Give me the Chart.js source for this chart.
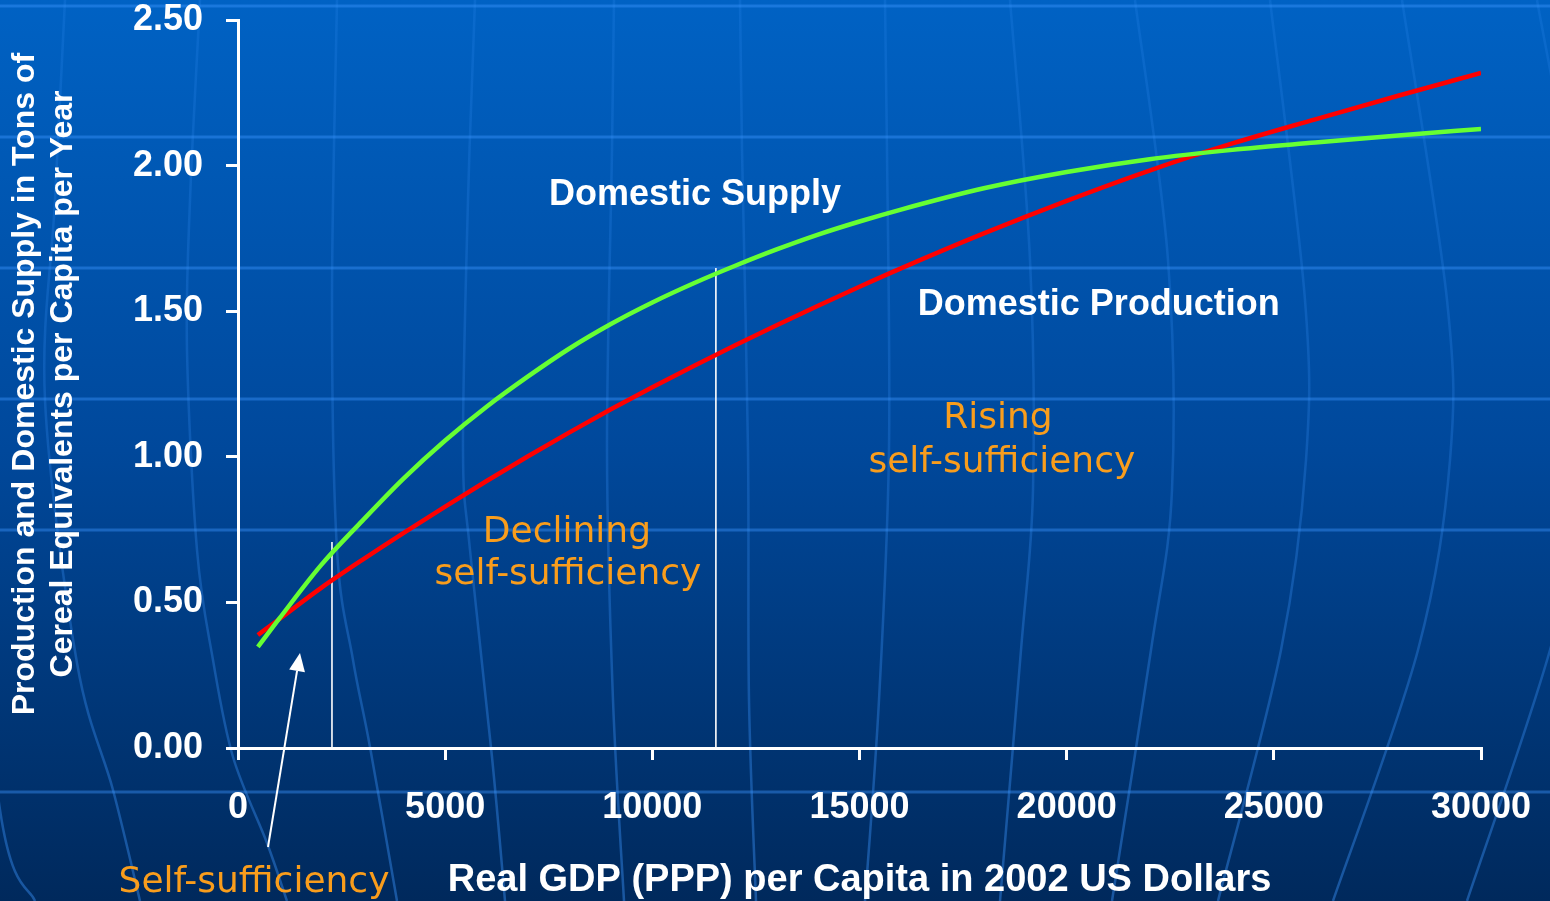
<!DOCTYPE html>
<html><head><meta charset="utf-8">
<script src="https://cdn.jsdelivr.net/npm/chart.js@4.4.1/dist/chart.umd.min.js"></script>
<style>html,body{margin:0;padding:0;background:#003a80;overflow:hidden}canvas{display:block}</style>
</head><body>
<canvas id="c" width="1550" height="901"></canvas>
<script>
// ---- data ----
const gdp = [480, 1000, 2000, 3000, 4000, 5000, 6000, 7000, 8000, 9000, 10000, 11000, 12000, 13000, 14000, 15000, 16000, 18000, 20000, 22000, 24000, 26000, 28000, 30000];
const domesticSupply = [0.347, 0.445, 0.627, 0.780, 0.926, 1.056, 1.172, 1.276, 1.372, 1.456, 1.530, 1.596, 1.656, 1.712, 1.763, 1.808, 1.849, 1.922, 1.978, 2.022, 2.054, 2.079, 2.103, 2.126];
const domesticProduction = [0.388, 0.443, 0.549, 0.646, 0.739, 0.829, 0.917, 1.002, 1.084, 1.163, 1.239, 1.312, 1.383, 1.452, 1.519, 1.584, 1.647, 1.767, 1.879, 1.983, 2.076, 2.159, 2.240, 2.318];
const xTickValues = [0, 5000, 10000, 15000, 20000, 25000, 30000];
const xTickLabels = ['0', '5000', '10000', '15000', '20000', '25000', '30000'];
const yTickValues = [0, 0.5, 1.0, 1.5, 2.0, 2.5];
const yTickLabels = ['0.00', '0.50', '1.00', '1.50', '2.00', '2.50'];
const dividerGdp = [2268, 11534];
const dividerTop = [0.707, 1.648];
const seriesNames = ['Domestic Supply', 'Domestic Production'];
const xTitle = 'Real GDP (PPP) per Capita in 2002 US Dollars';
const yTitle = ['Production and Domestic Supply in Tons of', 'Cereal Equivalents per Capita per Year'];

// text annotations (anchored in data units: x = GDP, y = tons, baseline)
const notes = [
  {text: seriesNames[0], x: 11028, y: 1.865, style: 'series'},
  {text: seriesNames[1], x: 20776, y: 1.487, style: 'series'},
  {text: 'Rising', x: 18339, y: 1.099, style: 'note'},
  {text: 'self-sufficiency', x: 18435, y: 0.948, style: 'note'},
  {text: 'Declining', x: 7939, y: 0.707, style: 'note'},
  {text: 'self-sufficiency', x: 7963, y: 0.563, style: 'note'},
  {text: 'Self-sufficiency', x: 386, y: -0.495, style: 'note'}
];
const arrowFrom = {x: 724, y: -0.340};
const arrowTo = {x: 1496, y: 0.326};

const SANS = "'Liberation Sans', Arial, Helvetica, sans-serif";
const ORANGE = '#f99d1c';

// ---- decorative globe background ----
const meridians = [
  [[-60,0],[-40,400],[0,810],[35,901]],
  [[65,0],[55,200],[45,400],[77,663],[113,790],[140,901]],
  [[200,0],[190,200],[187,350],[197,550],[213,660],[233,757],[267,843],[287,901]],
  [[337,0],[332,300],[337,550],[353,660],[370,747],[397,901]],
  [[475,0],[468,200],[463,450],[470,550],[492,757],[505,901]],
  [[614,0],[612,150],[607,450],[613,700],[624,901]],
  [[740,0],[742,150],[748,450],[749,700],[756,901]],
  [[885,0],[887,150],[889,450],[879,700],[865,901]],
  [[1010,0],[1030,260],[1033,490],[1021,650],[1000,901]],
  [[1135,0],[1168,260],[1172,490],[1151,650],[1112,901]],
  [[1270,0],[1305,300],[1306,460],[1281,650],[1218,901]],
  [[1402,0],[1447,300],[1450,460],[1418,650],[1333,901]],
  [[1537,0],[1590,300],[1592,460],[1550,650],[1467,901]]
];
const parallels = [6, 137, 268, 399, 530, 792];

function smoothPath(ctx, pts) {
  ctx.moveTo(pts[0][0], pts[0][1]);
  const n = pts.length;
  for (let i = 0; i < n - 1; i++) {
    const p0 = pts[Math.max(i - 1, 0)], p1 = pts[i], p2 = pts[i + 1], p3 = pts[Math.min(i + 2, n - 1)];
    ctx.bezierCurveTo(p1[0] + (p2[0] - p0[0]) / 6, p1[1] + (p2[1] - p0[1]) / 6,
                      p2[0] - (p3[0] - p1[0]) / 6, p2[1] - (p3[1] - p1[1]) / 6, p2[0], p2[1]);
  }
}

const backgroundPlugin = {
  id: 'globeBg',
  beforeDraw(chart) {
    const {ctx, width, height} = chart;
    ctx.save();
    const g = ctx.createLinearGradient(0, 0, 0, height);
    g.addColorStop(0, '#0062c4');
    g.addColorStop(0.5, '#00489b');
    g.addColorStop(1, '#00295c');
    ctx.fillStyle = g;
    ctx.fillRect(0, 0, width, height);
    const mg = ctx.createLinearGradient(0, 0, 0, height);
    mg.addColorStop(0, 'rgba(60,150,255,0.16)');
    mg.addColorStop(0.5, 'rgba(60,150,255,0.24)');
    mg.addColorStop(1, 'rgba(60,150,255,0.42)');
    ctx.strokeStyle = mg;
    ctx.lineWidth = 2.5;
    meridians.forEach(m => { ctx.beginPath(); smoothPath(ctx, m); ctx.stroke(); });
    ctx.strokeStyle = 'rgba(60,150,255,0.42)';
    ctx.lineWidth = 3;
    parallels.forEach(y => { ctx.beginPath(); ctx.moveTo(0, y); ctx.lineTo(width, y); ctx.stroke(); });
    ctx.restore();
  }
};

const annotationPlugin = {
  id: 'notes',
  afterDraw(chart) {
    const {ctx} = chart;
    const xs = chart.scales.x, ys = chart.scales.y;
    ctx.save();
    ctx.textAlign = 'center';
    ctx.textBaseline = 'alphabetic';
    notes.forEach(n => {
      if (n.style === 'series') {
        ctx.font = 'bold 36px ' + SANS;
        ctx.fillStyle = '#ffffff';
      } else {
        ctx.font = "36px 'DejaVu Sans', Verdana, sans-serif";
        ctx.fillStyle = ORANGE;
      }
      ctx.fillText(n.text, xs.getPixelForValue(n.x), ys.getPixelForValue(n.y));
    });
    // arrow
    const x1 = xs.getPixelForValue(arrowFrom.x), y1 = ys.getPixelForValue(arrowFrom.y);
    const x2 = xs.getPixelForValue(arrowTo.x), y2 = ys.getPixelForValue(arrowTo.y);
    const ang = Math.atan2(y2 - y1, x2 - x1);
    const hl = 18, hw = 8;
    const bx = x2 - hl * Math.cos(ang), by = y2 - hl * Math.sin(ang);
    ctx.strokeStyle = '#ffffff';
    ctx.fillStyle = '#ffffff';
    ctx.lineWidth = 2;
    ctx.beginPath(); ctx.moveTo(x1, y1); ctx.lineTo(bx, by); ctx.stroke();
    ctx.beginPath();
    ctx.moveTo(x2, y2);
    ctx.lineTo(bx + hw * Math.sin(ang), by - hw * Math.cos(ang));
    ctx.lineTo(bx - hw * Math.sin(ang), by + hw * Math.cos(ang));
    ctx.closePath(); ctx.fill();
    ctx.restore();
  }
};

const pts = (xs, ys) => xs.map((x, i) => ({x, y: ys[i]}));
const dividerSets = dividerGdp.map((gx, i) => ({
  label: 'divider' + i,
  data: [{x: gx, y: 0}, {x: gx, y: dividerTop[i]}],
  borderColor: '#ffffff',
  borderWidth: 1.6,
  pointRadius: 0,
  order: 3
}));

Chart.defaults.color = '#ffffff';
new Chart(document.getElementById('c'), {
  type: 'line',
  data: {
    datasets: [
      {label: seriesNames[0], data: pts(gdp, domesticSupply), borderColor: '#66ff33', borderWidth: 4.5,
       pointRadius: 0, cubicInterpolationMode: 'monotone', order: 0},
      {label: seriesNames[1], data: pts(gdp, domesticProduction), borderColor: '#ff0000', borderWidth: 4.5,
       pointRadius: 0, cubicInterpolationMode: 'monotone', order: 1},
      ...dividerSets
    ]
  },
  options: {
    responsive: false,
    animation: false,
    layout: {padding: {left: 0, top: 20, right: 69, bottom: 0}},
    plugins: {legend: {display: false}, tooltip: {enabled: false}},
    scales: {
      x: {
        type: 'linear', min: 0, max: 30000,
        afterBuildTicks: s => { s.ticks = xTickValues.map(v => ({value: v})); },
        afterFit: s => { s.height = 153; s.paddingLeft = 0; s.paddingRight = 0; },
        border: {display: true, color: '#ffffff', width: 3},
        grid: {drawOnChartArea: false, drawTicks: true, tickLength: 12, color: '#ffffff', lineWidth: 3},
        ticks: {
          color: '#ffffff', padding: 26, maxRotation: 0, autoSkip: false,
          font: {family: SANS, size: 36, weight: 'bold'},
          callback: (v) => xTickLabels[xTickValues.indexOf(v)]
        },
        title: {display: true, text: xTitle, color: '#ffffff',
          font: {family: SANS, size: 38, weight: 'bold'}, padding: {top: 0, bottom: -2}}
      },
      y: {
        type: 'linear', min: 0, max: 2.5,
        afterBuildTicks: s => { s.ticks = yTickValues.map(v => ({value: v})); },
        afterFit: s => { s.width = 238; s.paddingTop = 0; s.paddingBottom = 0; },
        border: {display: true, color: '#ffffff', width: 3},
        grid: {drawOnChartArea: false, drawTicks: true, tickLength: 12, color: '#ffffff', lineWidth: 3},
        ticks: {
          color: '#ffffff', padding: 23, autoSkip: false,
          font: {family: SANS, size: 36, weight: 'bold'},
          callback: (v) => yTickLabels[yTickValues.indexOf(v)]
        },
        title: {display: true, text: yTitle, color: '#ffffff',
          font: {family: SANS, size: 32, weight: 'bold', lineHeight: 1.2}, padding: {top: 6, bottom: 0}}
      }
    }
  },
  plugins: [backgroundPlugin, annotationPlugin]
});
</script>
</body></html>
